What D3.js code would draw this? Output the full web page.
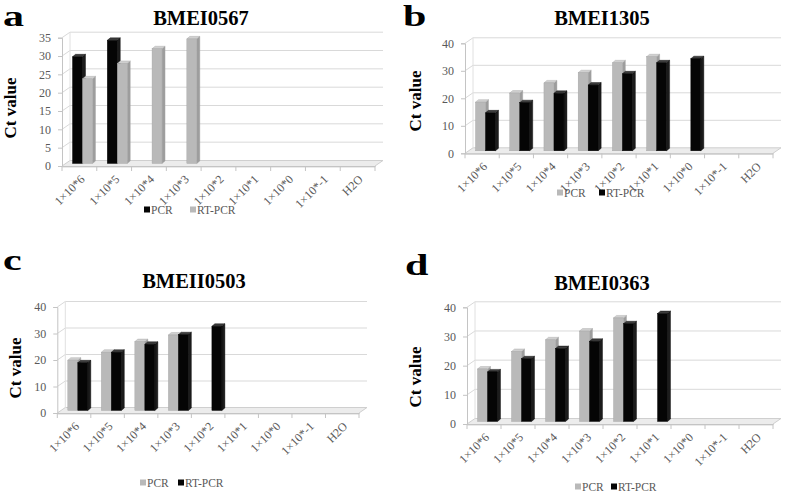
<!DOCTYPE html>
<html>
<head>
<meta charset="utf-8">
<script src="https://cdn.jsdelivr.net/npm/d3@7"></script>
<style>
  body { margin: 0; background: #fff; }
  svg { display: block; font-family: "Liberation Serif", "DejaVu Serif", serif; }
</style>
</head>
<body>
<svg id="chart" width="787" height="493"></svg>
<script>
// dilution categories shared by all four panels
const categories = ['1×10*6', '1×10*5', '1×10*4', '1×10*3', '1×10*2', '1×10*1', '1×10*0', '1×10*-1', 'H2O'];

// a: BMEI0567
const aPCR = [29.1, 33.6, null, null, null, null, null, null, null];
const aRT = [23.1, 27.3, 31.3, 34, null, null, null, null, null];
// b: BMEI1305
const bPCR = [17.7, 21, 24.7, 28.4, 32, 34.2, null, null, null];
const bRT = [13.8, 17.5, 20.9, 23.9, 28, 32, 33.5, null, null];
// c: BMEII0503
const cPCR = [19, 22, 26, 28.5, null, null, null, null, null];
const cRT = [18, 22, 25, 28.6, 31.8, null, null, null, null];
// d: BMEI0363
const dPCR = [18, 24, 28, 31, 35.5, null, null, null, null];
const dRT = [17, 21.5, 25, 27.5, 33.5, 37, null, null, null];

const aTicks = [0, 5, 10, 15, 20, 25, 30, 35];
const bcdTicks = [0, 10, 20, 30, 40];

const SERIF = '"Liberation Serif", "DejaVu Serif", serif';
const BLACK = { front: '#050505', top: '#3c3c3c', side: '#1c1c1c', stroke: '#000' };
const GRAY = { front: '#b9b9b9', top: '#d0d0d0', side: '#9d9d9d', stroke: '#a3a3a3' };

const panels = [
  { letter: 'a', lx: 3, ly: 26, title: 'BMEI0567', tx: 201, ty: 25, ctx: 16, cty: 108,
    x0: 62, x1: 375, yFloor: 166, yTop: 37.7, yMax: 35, ticks: aTicks,
    series: [{ name: 'PCR', values: aPCR, c: BLACK }, { name: 'RT-PCR', values: aRT, c: GRAY }],
    legend: [144, 190], legY: 214 },
  { letter: 'b', lx: 403, ly: 26, title: 'BMEI1305', tx: 602, ty: 25, ctx: 421, cty: 101,
    x0: 465, x1: 773, yFloor: 153.3, yTop: 43.3, yMax: 40, ticks: bcdTicks,
    series: [{ name: 'PCR', values: bPCR, c: GRAY }, { name: 'RT-PCR', values: bRT, c: BLACK }],
    legend: [557, 599], legY: 197 },
  { letter: 'c', lx: 3, ly: 270, title: 'BMEII0503', tx: 194, ty: 288, ctx: 21, cty: 368,
    x0: 57.3, x1: 359, yFloor: 413, yTop: 307, yMax: 40, ticks: bcdTicks,
    series: [{ name: 'PCR', values: cPCR, c: GRAY }, { name: 'RT-PCR', values: cRT, c: BLACK }],
    legend: [140, 178], legY: 487 },
  { letter: 'd', lx: 405, ly: 275, title: 'BMEI0363', tx: 602, ty: 290, ctx: 421, cty: 377,
    x0: 467, x1: 773, yFloor: 424, yTop: 307.3, yMax: 40, ticks: bcdTicks,
    series: [{ name: 'PCR', values: dPCR, c: GRAY }, { name: 'RT-PCR', values: dRT, c: BLACK }],
    legend: [575, 611], legY: 491 }
];

const svg = d3.select('#chart');

// oblique depth offsets
const backDx = 8, backDy = -5.5;   // back wall
const barDx = 2.5, barDy = -2.5;   // bar front face
const capDx = 3, capDy = -2.5;     // bar depth
const barW = 10;

function drawPanel(p) {
  const g = svg.append('g');
  const x = d3.scaleBand().domain(categories).range([p.x0, p.x1]);
  const y = d3.scaleLinear().domain([0, p.yMax]).range([p.yFloor, p.yTop]);
  const xb0 = p.x0 + backDx, xb1 = p.x1 + backDx;

  // floor slab
  const f0 = y(0);
  g.append('polygon')
    .attr('points', [[p.x0, f0], [p.x1, f0], [xb1, f0 + backDy], [xb0, f0 + backDy]].join(' '))
    .attr('fill', '#ececec');
  g.append('polygon')
    .attr('points', [[p.x0, f0], [p.x1, f0], [p.x1, f0 + 1.5], [p.x0, f0 + 1.5]].join(' '))
    .attr('fill', '#d6d6d6');

  // gridlines on back wall + side wall diagonals
  p.ticks.forEach(t => {
    const yy = y(t);
    g.append('polyline')
      .attr('points', [[p.x0, yy], [xb0, yy + backDy], [xb1, yy + backDy]].join(' '))
      .attr('fill', 'none').attr('stroke', t === 0 ? '#cfcfcf' : '#d9d9d9').attr('stroke-width', 1);
  });
  g.append('line').attr('x1', xb0).attr('x2', xb0)
    .attr('y1', y(0) + backDy).attr('y2', y(p.yMax) + backDy)
    .attr('stroke', '#e0e0e0');
  g.append('line').attr('x1', xb1).attr('x2', p.x1)
    .attr('y1', y(0) + backDy).attr('y2', y(0))
    .attr('stroke', '#cfcfcf');

  // y axis
  const yAxis = d3.axisLeft(y).tickValues(p.ticks).tickSize(4).tickPadding(7);
  const ya = g.append('g').attr('transform', 'translate(' + p.x0 + ',0)').call(yAxis)
    .attr('font-family', SERIF);
  ya.select('.domain').attr('stroke', '#c4c4c4');
  ya.selectAll('.tick line').attr('stroke', '#c4c4c4');
  ya.selectAll('.tick text').attr('fill', '#595959').attr('font-size', 12);

  // x axis
  const xAxis = d3.axisBottom(x).tickSize(0).tickFormat('');
  const xa = g.append('g').attr('transform', 'translate(0,' + f0 + ')').call(xAxis)
    .attr('font-family', SERIF);
  xa.select('.domain').attr('stroke', '#c4c4c4');
  const bounds = categories.map(c => x(c)).concat([p.x1]);
  xa.selectAll('.xtick').data(bounds).join('line').attr('class', 'xtick')
    .attr('x1', d => d).attr('x2', d => d).attr('y1', 0).attr('y2', 5)
    .attr('stroke', '#c4c4c4');
  xa.selectAll('.xlab').data(categories).join('text').attr('class', 'xlab')
    .attr('transform', d => 'translate(' + (x(d) + x.bandwidth() / 2 + 6) + ',14) rotate(-45)')
    .attr('text-anchor', 'end')
    .attr('fill', '#595959').attr('font-size', 12)
    .text(d => d);

  // bars
  categories.forEach((cat, i) => {
    p.series.forEach((s, j) => {
      const v = s.values[i];
      if (v == null) return;
      const bx = x(cat) + 8 + j * barW + barDx;
      const yb = y(0) + barDy, yt = y(v) + barDy;
      const bar = g.append('g');
      bar.append('polygon')
        .attr('points', [[bx + barW, yt], [bx + barW + capDx, yt + capDy], [bx + barW + capDx, yb + capDy], [bx + barW, yb]].join(' '))
        .attr('fill', s.c.side).attr('stroke', s.c.stroke).attr('stroke-width', 0.4);
      bar.append('polygon')
        .attr('points', [[bx, yt], [bx + barW, yt], [bx + barW + capDx, yt + capDy], [bx + capDx, yt + capDy]].join(' '))
        .attr('fill', s.c.top).attr('stroke', s.c.stroke).attr('stroke-width', 0.4);
      bar.append('rect')
        .attr('x', bx).attr('y', yt).attr('width', barW).attr('height', yb - yt)
        .attr('fill', s.c.front).attr('stroke', s.c.stroke).attr('stroke-width', 0.4);
    });
  });

  // texts
  g.append('text')
    .attr('transform', 'translate(' + p.lx + ',' + p.ly + ') scale(1.45,1)')
    .attr('font-size', 29).attr('font-weight', 'bold').attr('fill', '#000')
    .text(p.letter);
  g.append('text').attr('x', p.tx).attr('y', p.ty).attr('text-anchor', 'middle')
    .attr('font-size', 20.5).attr('font-weight', 'bold').attr('fill', '#000')
    .text(p.title);
  g.append('text')
    .attr('transform', 'translate(' + p.ctx + ',' + p.cty + ') rotate(-90)')
    .attr('text-anchor', 'middle')
    .attr('font-size', 17).attr('font-weight', 'bold').attr('fill', '#000')
    .text('Ct value');

  // legend
  p.series.forEach((s, j) => {
    const lx = p.legend[j];
    g.append('rect').attr('x', lx).attr('y', p.legY - 7.5).attr('width', 6).attr('height', 6)
      .attr('fill', s.c.front);
    g.append('text').attr('x', lx + 7).attr('y', p.legY)
      .attr('font-size', 11.5).attr('fill', '#595959')
      .text(s.name);
  });
}

panels.forEach(drawPanel);
</script>
</body>
</html>
